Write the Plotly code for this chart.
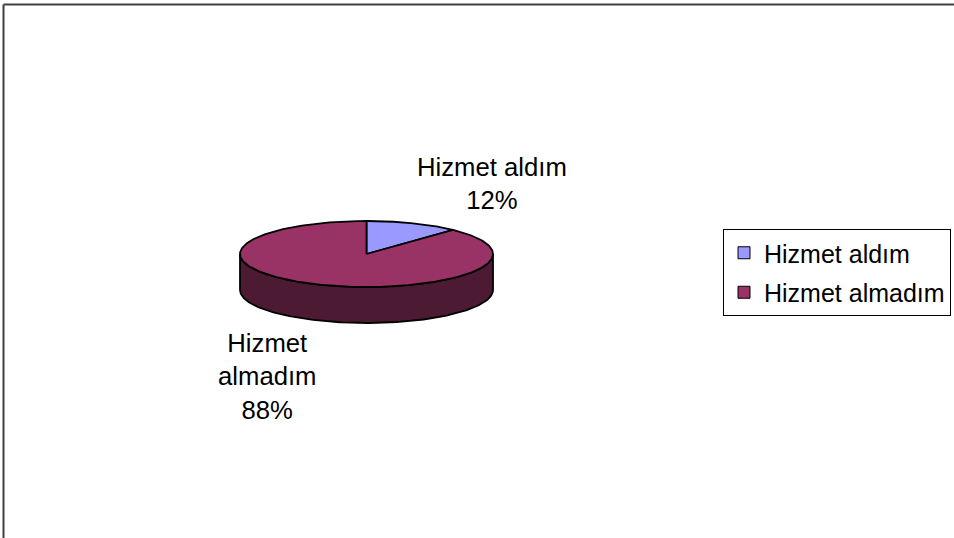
import numpy as np
import plotly.graph_objects as go

# ---- data ----
labels = ["Hizmet aldım", "Hizmet almadım"]
values = [12, 88]
label_text = ["Hizmet aldım", "Hizmet<br>almadım"]
top_colors = ["#9999FF", "#993366"]
side_colors = ["#4D4D80", "#4C1A33"]

W, H = 954, 538
FONT = "Liberation Sans, Arial, sans-serif"

# pie geometry in pixel space
cx, cy, rx, ry, depth = 366.5, 254.0, 126.5, 33.0, 36.0


def pt(theta, dy=0.0):
    t = np.radians(theta)
    return cx + rx * np.sin(t), cy - ry * np.cos(t) + dy


total = float(sum(values))
slices = []
start = 0.0
for v in values:
    end = start + 360.0 * v / total
    slices.append((start, end))
    start = end

fig = go.Figure()

# side walls (front half only)
for (a0, a1), col in zip(slices, side_colors):
    lo, hi = max(a0, 90.0), min(a1, 270.0)
    if hi > lo:
        th = np.linspace(lo, hi, 200)
        xt, yt = pt(th)
        xb, yb = pt(th[::-1], depth)
        x = np.concatenate([xt, xb, xt[:1]])
        y = np.concatenate([yt, yb, yt[:1]])
        fig.add_trace(go.Scatter(x=x, y=y, mode="lines", fill="toself",
                                 fillcolor=col, line=dict(color="black", width=1.8),
                                 showlegend=False, hoverinfo="skip"))

# top faces
for (a0, a1), col in zip(slices, top_colors):
    th = np.linspace(a0, a1, 300)
    xa, ya = pt(th)
    x = np.concatenate([[cx], xa, [cx]])
    y = np.concatenate([[cy], ya, [cy]])
    fig.add_trace(go.Scatter(x=x, y=y, mode="lines", fill="toself",
                             fillcolor=col, line=dict(color="black", width=1.8),
                             showlegend=False, hoverinfo="skip"))

# legend entries
for i, (lab, col) in enumerate(zip(labels, top_colors)):
    fig.add_trace(go.Scatter(x=[None], y=[None], mode="markers", name=lab,
                             legendgroup=str(i),
                             marker=dict(symbol="square", size=12, color=col,
                                         line=dict(color="black", width=1))))

# data labels
pcts = [round(100 * v / total) for v in values]
label_pos = [(492, 183), (267, 376)]
for txt, p, (lx, ly) in zip(label_text, pcts, label_pos):
    fig.add_annotation(x=lx, y=ly, xref="x", yref="y", showarrow=False,
                       text=f"{txt}<br>{p}%", align="center",
                       font=dict(family=FONT, size=25.7, color="black"))

# chart-area border (top & left visible)
fig.add_shape(type="line", xref="x", yref="y", x0=3.5, y0=H, x1=3.5, y1=4.5,
              line=dict(color="#404040", width=2))
fig.add_shape(type="line", xref="x", yref="y", x0=3.5, y0=4.5, x1=W, y1=4.5,
              line=dict(color="#404040", width=2))

fig.update_layout(
    width=W, height=H,
    margin=dict(l=0, r=0, t=0, b=0, autoexpand=False),
    paper_bgcolor="white", plot_bgcolor="white",
    xaxis=dict(range=[0, W], visible=False, fixedrange=True),
    yaxis=dict(range=[H, 0], visible=False, fixedrange=True),
    font=dict(family=FONT, size=25, color="black"),
    showlegend=True,
    legend=dict(x=723 / W, y=1 - 229 / H, xanchor="left", yanchor="top",
                bordercolor="black", borderwidth=1, bgcolor="white",
                font=dict(family=FONT, size=25, color="black"),
                tracegroupgap=4, itemsizing="trace"),
)

fig.write_html("out.html", config={"displayModeBar": False},
               post_script="document.body.style.margin='0';"
                           "document.body.style.overflow='hidden';")
